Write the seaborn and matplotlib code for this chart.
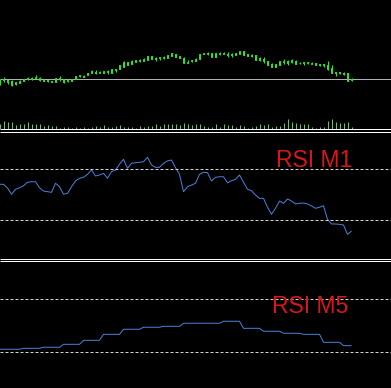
import numpy as np
import pandas as pd
import matplotlib
matplotlib.use("Agg")
import matplotlib.pyplot as plt
from matplotlib.lines import Line2D
import seaborn as sns

# ---------------- data (M1 bars, price in chart points) ----------------
open_ = [16, 20, 20, 19, 16, 17.5, 19, 21, 21.5, 22,
         22, 20.5, 19.5, 19, 18.5, 21, 20.7, 19, 19, 21,
         24, 24.5, 25, 27, 28.5, 27.5, 27.5, 29, 27.5, 30.7,
         30.7, 33.5, 38, 35.7, 38.5, 39, 39.5, 40, 43.7, 42,
         42, 42, 42, 44.3, 46, 44, 42.5, 37.5, 39, 39.5,
         40.7, 46, 47, 43.5, 43.5, 46, 46.5, 46.5, 46, 45.5,
         46, 48.7, 46, 44.7, 44.7, 41.7, 41.5, 39, 36.5, 33.5,
         35, 38, 39, 38.5, 39, 37, 37, 37, 36.3, 36.7,
         35.7, 36, 35.5, 31.5, 28, 28, 27.5, 27, 20]
high_ = [21, 22.7, 20.5, 20, 18.5, 20, 21.3, 23, 23.5, 25,
         23.5, 20.7, 20, 19.3, 22, 24, 21, 20.7, 21.3, 24,
         24.7, 25, 27.3, 29.7, 29.7, 29, 29.3, 30, 31, 31,
         35, 39, 38, 39.7, 40.3, 40.7, 41.7, 44, 44, 43.3,
         42.7, 44, 45.3, 47, 46, 44.3, 42.7, 40, 40, 41.7,
         46, 47.3, 48.3, 47.3, 47.3, 48.3, 48.3, 48.3, 47.3, 47.3,
         49.3, 49, 46, 46, 45, 42.7, 43.3, 39.3, 36.7, 36.3,
         39.3, 40.7, 40, 41, 39.7, 37.7, 38.3, 38.3, 37.7, 37.3,
         36, 36, 39, 34.7, 28.3, 28.3, 28.3, 27.3, 21.7]
low_ = [15, 18.3, 16.5, 14, 15.5, 17.5, 18.7, 20, 20.5, 21,
        19.5, 18.7, 18.3, 17.7, 18.3, 19.3, 17.3, 17.7, 18.7, 20.7,
        23.3, 22.7, 24.7, 26.7, 26, 26.7, 27, 26, 27.3, 28,
        30.7, 33.3, 35.3, 35.7, 38, 38.3, 39, 40, 41.3, 39.3,
        39.7, 40.7, 42, 44.3, 42.7, 41.7, 36.7, 36.7, 38.3, 39,
        40.7, 45.7, 45, 43.3, 43.3, 45, 45.7, 43.3, 43.3, 45.3,
        46, 45, 44, 42.7, 40, 39.3, 37.5, 35, 33.3, 33.3,
        35, 36, 35.3, 37.3, 36, 36.3, 35.3, 36, 35.7, 34.7,
        34.3, 33.3, 30, 27, 24.3, 26, 25, 19, 19.3]
close_ = [20, 21, 18, 15, 18, 19.5, 21, 22, 22.5, 22.5,
          20, 19, 19, 18.5, 22, 22, 18.5, 19.5, 21, 23.7,
          24.5, 23.5, 27, 29.5, 27.5, 28.5, 29, 28, 30.7, 30.3,
          35, 38.5, 35.5, 39.3, 40, 40.3, 41.3, 43.7, 41.5, 41.3,
          42.5, 43, 45.3, 47, 42.7, 42, 36.7, 38.5, 39.5, 41,
          46, 47, 46.3, 47, 46.7, 47, 47.5, 45, 44.7, 47,
          49, 45, 44, 44, 40, 40.3, 39, 35.3, 33.5, 36,
          39, 39.3, 37.5, 40, 36.3, 36.7, 37.7, 38, 37, 35,
          35, 35, 31, 27.3, 27.3, 27, 26.5, 19.5, 20.7]
volume = [50, 77, 67, 67, 37, 47, 47, 67, 47, 47,
          47, 27, 37, 27, 27, 10, 17, 17, 10, 17,
          10, 17, 10, 17, 27, 17, 37, 17, 17, 27,
          37, 17, 17, 17, 10, 27, 17, 27, 27, 47,
          27, 47, 47, 47, 47, 37, 57, 47, 37, 50,
          47, 27, 17, 17, 47, 17, 47, 37, 37, 17,
          37, 27, 10, 17, 27, 47, 37, 47, 17, 27,
          27, 57, 97, 67, 57, 47, 47, 47, 17, 10,
          17, 17, 77, 97, 67, 57, 57, 67, 17]
rsi_m1 = [58.0, 58.0, 55.0, 50.2, 54.1, 55.3, 56.9, 59.6, 60.0, 60.0,
          55.3, 52.7, 52.2, 51.7, 58.8, 56.1, 50.2, 50.9, 56.1, 60.6,
          62.7, 63.5, 65.8, 69.2, 64.5, 65.3, 66.6, 62.7, 67.9, 69.2,
          73.7, 77.6, 70.5, 74.5, 74.9, 75.2, 75.7, 79.2, 73.1, 71.3,
          71.3, 74.5, 76.3, 77.0, 71.0, 65.8, 52.2, 56.1, 57.4, 58.8,
          65.8, 67.4, 67.1, 60.6, 63.5, 63.9, 63.9, 59.2, 60.8, 61.9,
          65.3, 59.6, 54.1, 53.0, 49.6, 47.0, 47.0, 40.0, 34.5, 39.2,
          44.9, 43.1, 46.5, 44.9, 42.6, 43.1, 43.3, 42.6, 41.0, 39.2,
          40.0, 41.2, 30.6, 26.9, 26.9, 26.6, 26.1, 18.8, 21.4]
# RSI of the M5 timeframe, one value per M5 bar, and how many M1 bars each covers
rsi_m5 = [32.3, 33.0, 33.8, 36.0, 39.0, 43.5, 47.3, 48.8, 49.5,
          51.8, 51.8, 53.3, 48.0, 45.8, 44.3, 43.5, 37.5, 35.0]
m5_span = [6, 5, 5, 5, 5, 5, 5, 5, 5, 5, 5, 5, 5, 5, 5, 5, 5, 3]
rsi_levels = [70, 30]
labels = ["RSI M1", "RSI M5"]

# ---------------- style ----------------
sns.set_theme(style="dark")
plt.rcParams['font.family'] = ['Liberation Sans', 'DejaVu Sans']
plt.rcParams['lines.solid_capstyle'] = 'butt'

W, H = 391, 388
LW = 0.72  # one pixel
GREEN = '#30e030'
BEAR_FILL = '#b8f5b8'
BLUE = '#4a80d8'
RED = '#d81818'
DASH = '#d4d4d4'

fig = plt.figure(figsize=(W / 100, H / 100), dpi=100, facecolor='black')


def fy(y):
    return 1 - y / H


n = len(close_)
bars = np.arange(n)
df = pd.DataFrame({'bar': bars, 'open': open_, 'high': high_, 'low': low_,
                   'close': close_, 'volume': volume, 'rsi_m1': rsi_m1,
                   'rsi_m5': np.repeat(rsi_m5, m5_span)})
XLIM = (0.125, 97.875)

# ---------------- price panel ----------------
ax_p = fig.add_axes([0, fy(129), 1, 129 / H])
ax_p.set_xlim(*XLIM)
ax_p.set_ylim(-29, 100)
ax_p.set_axis_off()
ax_p.axhline(df['close'].iloc[-1], color='#b0b0b0', lw=LW, zorder=1)
ax_p.vlines(df['bar'], df['low'], df['high'], color=GREEN, lw=LW, zorder=2)
bull = df['close'] >= df['open']
body_lo = np.minimum(df['open'], df['close'])
body_h = np.maximum((df['close'] - df['open']).abs(), 0.6)
ax_p.bar(df['bar'][bull], body_h[bull], bottom=body_lo[bull], width=0.48,
         color='black', edgecolor=GREEN, linewidth=LW, zorder=3)
ax_p.bar(df['bar'][~bull], body_h[~bull], bottom=body_lo[~bull], width=0.48,
         color=BEAR_FILL, edgecolor=GREEN, linewidth=LW, zorder=3)

ax_v = fig.add_axes([0, fy(129), 1, 129 / H])
ax_v.set_xlim(*XLIM)
ax_v.set_ylim(0, 1290)
ax_v.set_axis_off()
ax_v.vlines(df['bar'], 0, df['volume'], color='#78b878', lw=LW)

# ---------------- RSI M1 panel ----------------
ax_m = fig.add_axes([0, fy(258.3), 1, 127.6 / H])
sns.lineplot(data=df, x='bar', y='rsi_m1', ax=ax_m, color=BLUE, linewidth=LW)
for lv in rsi_levels:
    ax_m.axhline(lv, color=DASH, lw=LW, ls=(0, (3, 2)))
ax_m.set_xlim(*XLIM)
ax_m.set_ylim(0, 100)
ax_m.set_axis_off()

# ---------------- RSI M5 panel ----------------
ax_b = fig.add_axes([0, fy(392.3), 1, 133.3 / H])
sns.lineplot(data=df, x='bar', y='rsi_m5', ax=ax_b, color=BLUE, linewidth=LW)
for lv in rsi_levels:
    ax_b.axhline(lv, color=DASH, lw=LW, ls=(0, (3, 2)))
ax_b.set_xlim(*XLIM)
ax_b.set_ylim(0, 100)
ax_b.set_axis_off()

# ---------------- window separators ----------------
for yy in (129.5, 131.5, 258.5, 260.8):
    fig.add_artist(Line2D([0, 1], [fy(yy), fy(yy)], transform=fig.transFigure,
                          color='white', lw=LW))

# ---------------- labels ----------------
fig.text(276 / W, fy(166.7), labels[0], color=RED, fontsize=16.5,
         ha='left', va='baseline')
fig.text(271.7 / W, fy(313.3), labels[1], color=RED, fontsize=16.5,
         ha='left', va='baseline')

fig.savefig('out.png', dpi=100, facecolor='black')
